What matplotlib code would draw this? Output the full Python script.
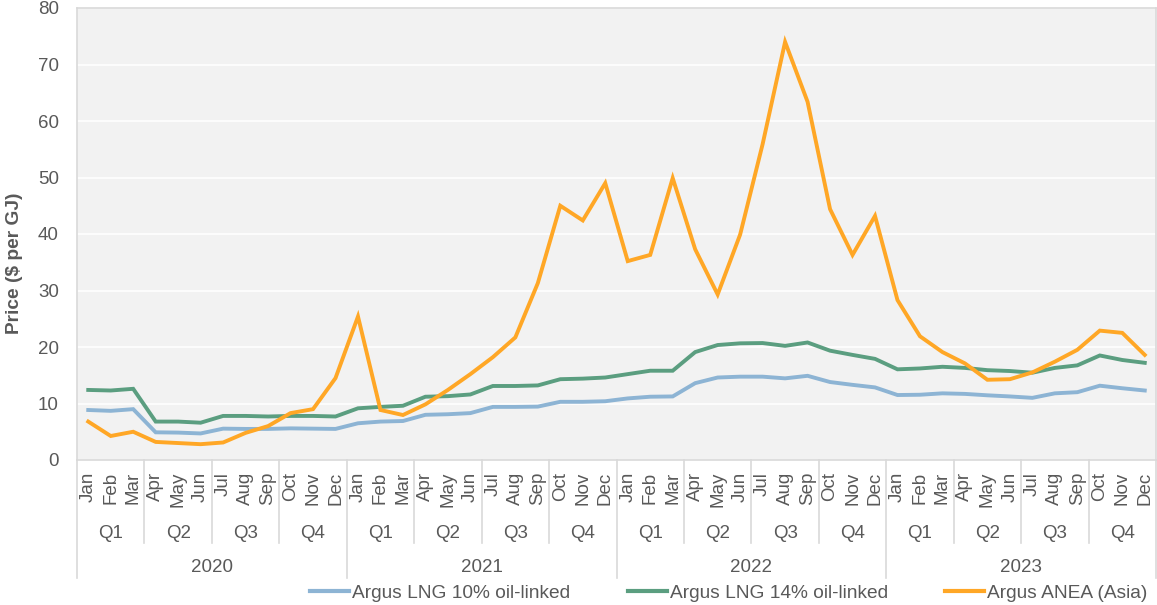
import matplotlib.pyplot as plt
from matplotlib.lines import Line2D
import matplotlib.transforms as mtransforms

plt.rcParams['font.family'] = ['Liberation Sans', 'DejaVu Sans']

# Monthly prices, Jan 2020 - Dec 2023 ($ per GJ)
months = ['Jan', 'Feb', 'Mar', 'Apr', 'May', 'Jun',
          'Jul', 'Aug', 'Sep', 'Oct', 'Nov', 'Dec'] * 4
quarters = ['Q1', 'Q2', 'Q3', 'Q4'] * 4
years = ['2020', '2021', '2022', '2023']

lng_10 = [8.85, 8.7, 9.0, 4.9, 4.85, 4.7, 5.55, 5.5, 5.5, 5.6, 5.55, 5.5,
          6.5, 6.8, 6.9, 8.0, 8.1, 8.3, 9.4, 9.4, 9.45, 10.3, 10.3, 10.4,
          10.9, 11.2, 11.25, 13.6, 14.6, 14.75, 14.75, 14.45, 14.9, 13.8, 13.3, 12.85,
          11.5, 11.55, 11.8, 11.7, 11.45, 11.25, 11.0, 11.8, 12.0, 13.15, 12.7, 12.3]
lng_14 = [12.4, 12.3, 12.6, 6.8, 6.8, 6.6, 7.8, 7.8, 7.7, 7.8, 7.8, 7.7,
          9.15, 9.4, 9.6, 11.2, 11.3, 11.6, 13.1, 13.1, 13.2, 14.3, 14.4, 14.6,
          15.2, 15.8, 15.8, 19.1, 20.35, 20.65, 20.7, 20.2, 20.8, 19.35, 18.6, 17.9,
          16.05, 16.2, 16.5, 16.3, 15.9, 15.75, 15.45, 16.3, 16.75, 18.5, 17.7, 17.2]
anea = [6.8, 4.25, 5.0, 3.2, 3.0, 2.8, 3.1, 4.8, 6.0, 8.3, 9.0, 14.5,
        25.4, 8.85, 7.96, 9.85, 12.4, 15.2, 18.2, 21.7, 31.3, 45.0, 42.4, 49.0,
        35.2, 36.3, 49.9, 37.3, 29.3, 39.9, 55.9, 74.0, 63.4, 44.4, 36.3, 43.2,
        28.3, 21.9, 19.1, 17.1, 14.2, 14.3, 15.5, 17.4, 19.5, 22.9, 22.5, 18.6]

series = [
    ('Argus LNG 10% oil-linked', lng_10, '#8DB4D4'),
    ('Argus LNG 14% oil-linked', lng_14, '#5B9E80'),
    ('Argus ANEA (Asia)', anea, '#FFA726'),
]

text_col = '#595959'
sep_col = '#D9D9D9'
fs = 13.5
W, H = 1157, 605

fig = plt.figure(figsize=(W / 100, H / 100), dpi=100)
ax = fig.add_axes([77 / W, (H - 460) / H, 1079 / W, 452 / H])
ax.set_facecolor('#F2F2F2')

x = list(range(len(months)))
for name, vals, col in series:
    ax.plot(x, vals, color=col, lw=2.8, solid_joinstyle='miter')

ax.set_xlim(-0.5, len(months) - 0.5)
ax.set_ylim(0, 80)
ax.set_yticks(range(0, 81, 10))
ax.grid(axis='y', color='white', lw=1.2)
ax.set_axisbelow(True)
for s in ax.spines.values():
    s.set_color(sep_col)
    s.set_linewidth(1.2)

ax.set_xticks(x)
ax.set_xticklabels(months, rotation=90, fontsize=fs, color=text_col)
ax.tick_params(axis='x', length=0, pad=8.5)
ax.tick_params(axis='y', length=0, pad=13, labelsize=fs, labelcolor=text_col)
ax.set_ylabel('Price ($ per GJ)', fontsize=13.8, fontweight='bold', color=text_col)
ax.yaxis.set_label_coords(-0.05, 0.436)

# multi-level category axis
trans = mtransforms.blended_transform_factory(ax.transData, ax.transAxes)
q_bottom = (460 - 543) / 452
y_bottom = (460 - 578) / 452
for i in range(len(quarters) + 1):
    xb = -0.5 + 3 * i
    yb = y_bottom if i % 4 == 0 else q_bottom
    ax.plot([xb, xb], [0, yb], color=sep_col, lw=1.2, transform=trans, clip_on=False)
for i, q in enumerate(quarters):
    ax.text(1 + 3 * i, (460 - 533) / 452, q, transform=trans, ha='center', va='center',
            fontsize=fs, color=text_col)
for i, yr in enumerate(years):
    ax.text(5.5 + 12 * i, (460 - 567) / 452, yr, transform=trans, ha='center', va='center',
            fontsize=fs, color=text_col)

# legend entries placed like the original
leg_x = [310, 628, 945]
for (name, vals, col), lx in zip(series, leg_x):
    leg = fig.legend([Line2D([], [], color=col, lw=3)], [name], loc='center left',
                     bbox_to_anchor=(lx / W, 1 - 593 / H), frameon=False, fontsize=13.8,
                     handlelength=2.05, handletextpad=0.12, borderpad=0, borderaxespad=0)
    for t in leg.get_texts():
        t.set_color(text_col)

plt.savefig('out.png', dpi=100)
